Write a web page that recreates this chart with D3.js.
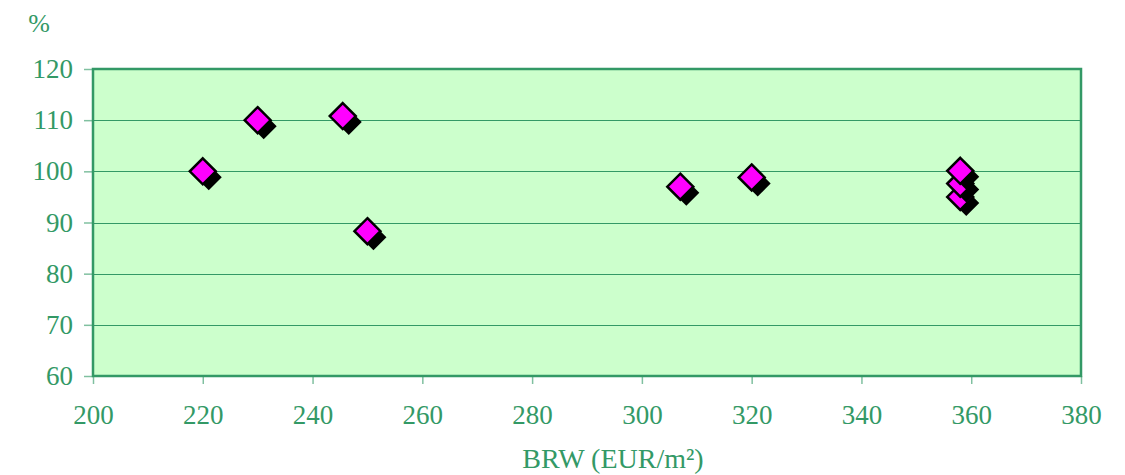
<!DOCTYPE html>
<html>
<head>
<meta charset="utf-8">
<script src="https://cdn.jsdelivr.net/npm/d3@7/dist/d3.min.js"></script>
<style>
  html, body { margin: 0; padding: 0; background: #ffffff; }
  svg { display: block; }
  text { font-family: "Liberation Serif", "DejaVu Serif", serif; fill: #339966; }
</style>
</head>
<body>
<svg id="chart" width="1125" height="475"></svg>
<script>
// Building land value (BRW) against ratio in percent
const brw     = [220, 230, 245.5, 250, 307, 320, 358, 358, 358];
const percent = [100, 110, 110.8, 88.3, 97, 98.8, 95, 97.6, 100.1];
const xTicks  = [200, 220, 240, 260, 280, 300, 320, 340, 360, 380];
const yTicks  = [60, 70, 80, 90, 100, 110, 120];
const xTitle  = "BRW (EUR/m²)";
const yTitle  = "%";

const m = { left: 93, right: 1081, top: 69, bottom: 376 };
const green = "#339966";

const svg = d3.select("#chart");

const x = d3.scaleLinear().domain([200, 380]).range([m.left, m.right]);
const y = d3.scaleLinear().domain([60, 120]).range([m.bottom, m.top]);

// plot background
svg.append("rect")
  .attr("x", m.left).attr("y", m.top)
  .attr("width", m.right - m.left).attr("height", m.bottom - m.top)
  .attr("fill", "#ccffcc");

// horizontal gridlines
svg.append("g").selectAll("line")
  .data(yTicks.filter(v => v > 60 && v < 120))
  .join("line")
  .attr("x1", m.left).attr("x2", m.right)
  .attr("y1", d => Math.round(y(d)) + 0.5).attr("y2", d => Math.round(y(d)) + 0.5)
  .attr("stroke", green).attr("stroke-width", 1);

// y axis
const yAxis = svg.append("g")
  .attr("transform", `translate(${m.left},0)`)
  .call(d3.axisLeft(y).tickValues(yTicks).tickSize(9).tickPadding(11).tickFormat(d3.format("d")));
yAxis.select(".domain").remove();
yAxis.selectAll(".tick line").attr("stroke", "#80c0a0").attr("stroke-width", 1.5);
yAxis.selectAll(".tick text")
  .attr("fill", green).attr("font-size", 27)
  .style("font-family", "'Liberation Serif', serif");

// x axis
const xAxis = svg.append("g")
  .attr("transform", `translate(0,${m.bottom})`)
  .call(d3.axisBottom(x).tickValues(xTicks).tickSize(8).tickPadding(21).tickFormat(d3.format("d")));
xAxis.select(".domain").remove();
xAxis.selectAll(".tick line").attr("stroke", "#80c0a0").attr("stroke-width", 1.5);
xAxis.selectAll(".tick text")
  .attr("fill", green).attr("font-size", 27)
  .style("font-family", "'Liberation Serif', serif");

// plot border
svg.append("rect")
  .attr("x", m.left).attr("y", m.top)
  .attr("width", m.right - m.left).attr("height", m.bottom - m.top)
  .attr("fill", "none").attr("stroke", green).attr("stroke-width", 2.5);

// diamond markers with drop shadow
const pts = brw.map((v, i) => ({ bx: v, py: percent[i] }));
const r = 13;
const diamond = (cx, cy) => `M${cx},${cy - r}L${cx + r},${cy}L${cx},${cy + r}L${cx - r},${cy}Z`;
const mk = svg.append("g").selectAll("g").data(pts).join("g");
mk.append("path")
  .attr("d", d => diamond(x(d.bx) + 6, y(d.py) + 6))
  .attr("fill", "#000000");
mk.append("path")
  .attr("d", d => diamond(x(d.bx), y(d.py)))
  .attr("fill", "#ff00ff").attr("stroke", "#000000").attr("stroke-width", 2.5)
  .attr("stroke-linejoin", "miter");

// titles
svg.append("text")
  .attr("x", 39).attr("y", 32)
  .attr("text-anchor", "middle").attr("font-size", 26)
  .text(yTitle);
svg.append("text")
  .attr("x", 613).attr("y", 468)
  .attr("text-anchor", "middle").attr("font-size", 28)
  .text(xTitle);
</script>
</body>
</html>
